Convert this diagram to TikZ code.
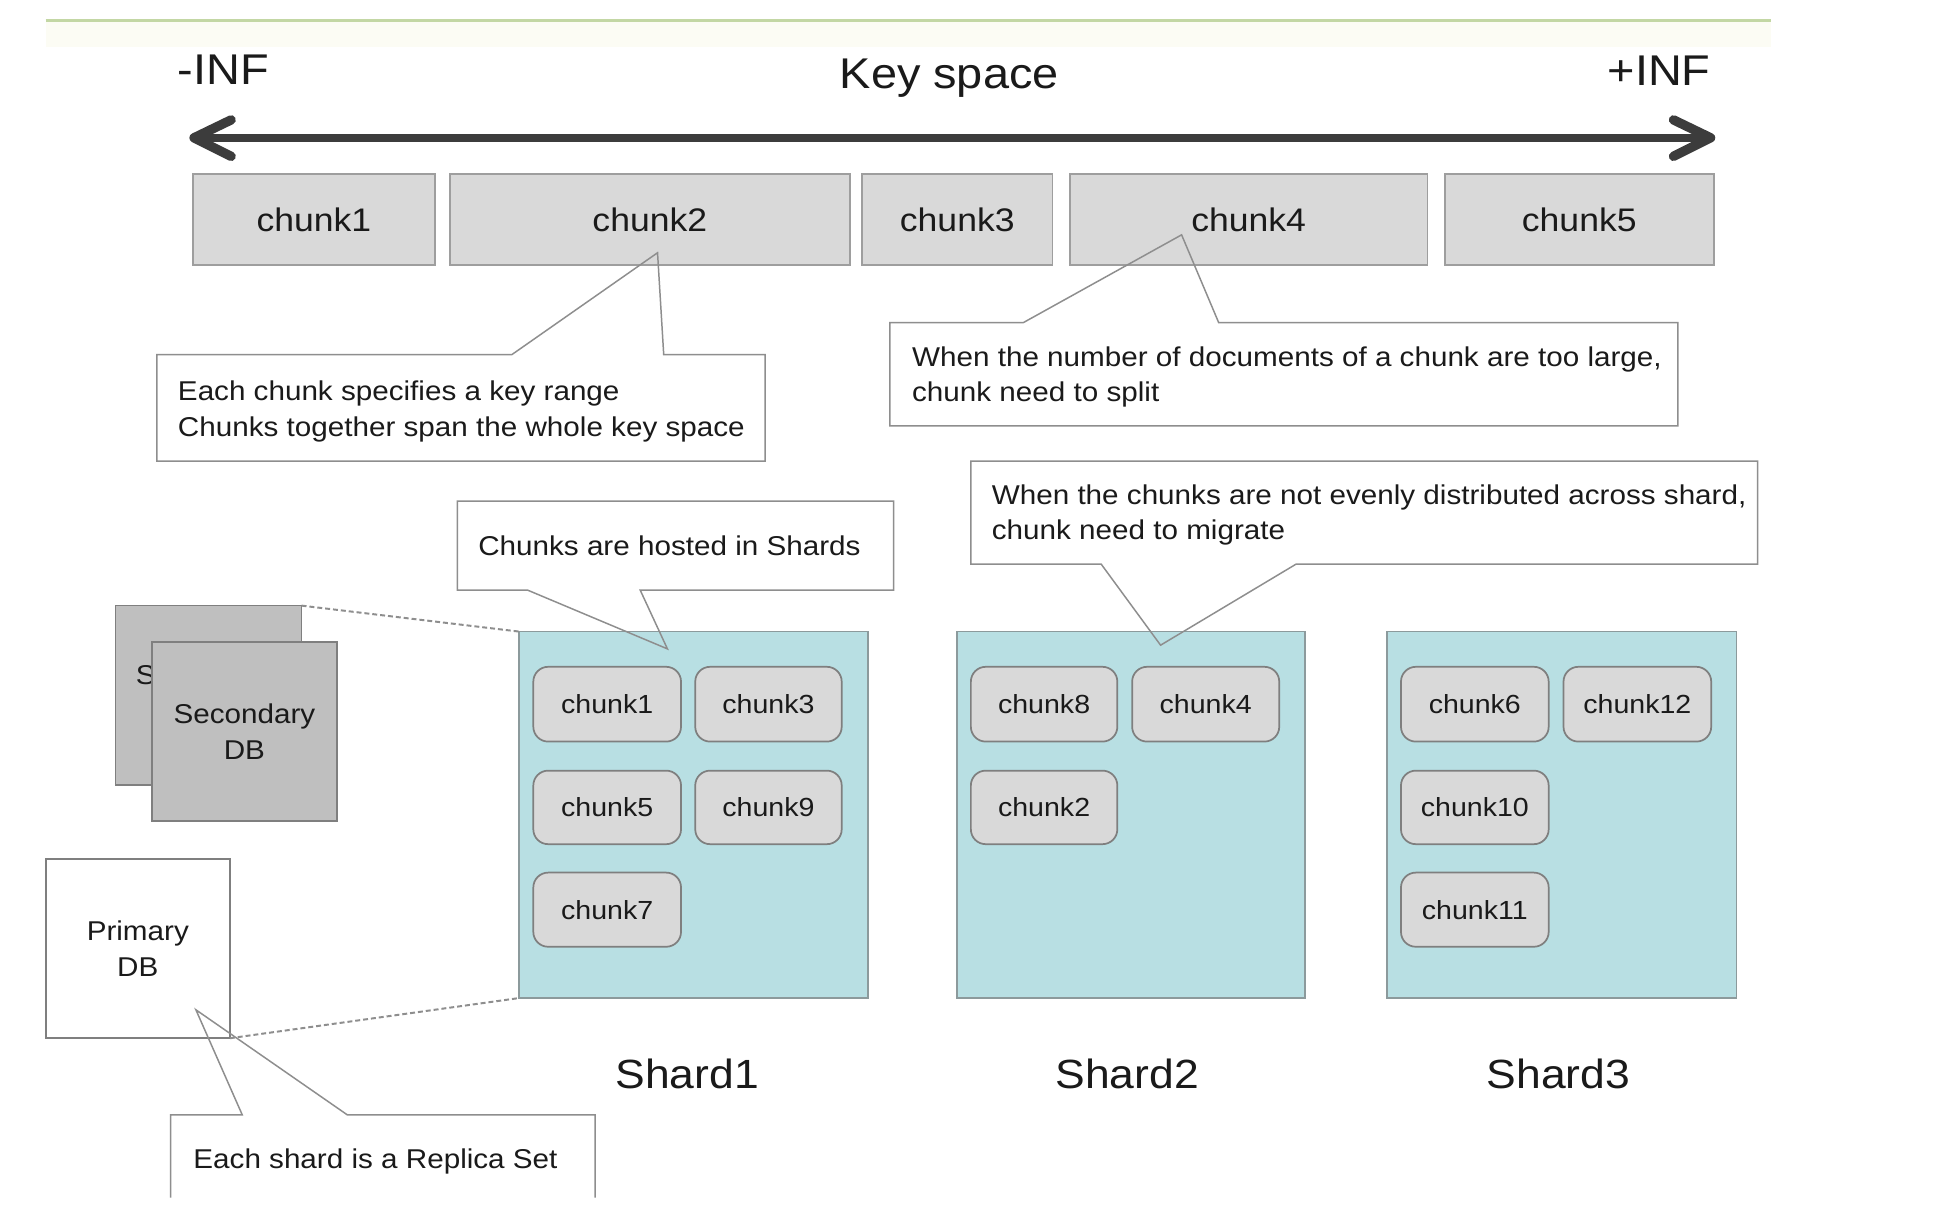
\documentclass[tikz,border=0pt]{standalone}
\usepackage{fontspec}
\setmainfont[FakeStretch=1.09]{Liberation Sans}
\usetikzlibrary{fit}
\definecolor{txt}{HTML}{1A1A1A}
\definecolor{chunkfill}{HTML}{D9D9D9}
\definecolor{chunkline}{HTML}{9E9E9E}
\definecolor{inline}{HTML}{7F7F7F}
\definecolor{shardfill}{HTML}{B8DFE3}
\definecolor{shardline}{HTML}{8C9A9C}
\definecolor{dbfill}{HTML}{BFBFBF}
\definecolor{dbline}{HTML}{7F7F7F}
\definecolor{calline}{HTML}{8E8E8E}
\definecolor{arrowc}{HTML}{3C3C3C}
\definecolor{greenline}{HTML}{C3D7A4}
\definecolor{cream}{HTML}{FCFCF4}
\begin{document}
\begin{tikzpicture}[x=0.5pt,y=-0.5pt,
  every node/.style={inner sep=0pt, outer sep=0pt, text=txt},
  topchunk/.style={draw=chunkline, line width=0.75pt, fill=chunkfill},
  toplabel/.style={font=\fontsize{13.2}{15}\selectfont},
  shardbox/.style={draw=shardline, line width=0.7pt, fill=shardfill},
  inchunk/.style={draw=inline, line width=0.7pt, fill=chunkfill, rounded corners=6pt},
  inlabel/.style={font=\fontsize{10.6}{12}\selectfont},
  dbbox/.style={draw=dbline, line width=0.7pt, fill=dbfill},
  primbox/.style={draw=dbline, line width=0.7pt, fill=white},
  dblabel/.style={align=center, font=\fontsize{11}{14.5}\selectfont},
  calloutline/.style={draw=calline, line width=0.6pt, line join=miter},
  caltext/.style={anchor=base west, font=\fontsize{11}{14}\selectfont},
  bigtext/.style={font=\fontsize{17.4}{20}\selectfont},
  shardlabel/.style={anchor=base, font=\fontsize{16.5}{19}\selectfont},
  replica/.style={draw=calline, line width=0.8pt, dash pattern=on 2pt off 1.2pt}
]
\useasboundingbox (0,0) rectangle (1568,995);
\fill[white] (0,0) rectangle (1568,995);
\fill[cream] (37,18) rectangle (1433,38);
\draw[greenline, line width=1.2pt] (37,16.5) -- (1433,16.5);

% header texts
\node[bigtext, anchor=base west] (ninf) at (144,68) {-INF};
\node[bigtext, anchor=base] (keyspace) at (768,72) {Key space};
\node[bigtext, anchor=base east] (pinf) at (1384,69) {+INF};

% key space arrow
\coordinate (al) at (157,111.5);
\coordinate (ar) at (1384,111.5);
\draw[arrowc, line width=3pt] (al) -- (ar);
\draw[arrowc, line width=3.8pt, line cap=round, line join=round] (187,97) -- (al) -- (187,126.5);
\draw[arrowc, line width=3.8pt, line cap=round, line join=round] (1354,97) -- (ar) -- (1354,126.5);

% top chunks
\node[topchunk, fit={(156,141) (352,214.5)}] (tc1) {};
\node[topchunk, fit={(364,141) (687.5,214.5)}] (tc2) {};
\node[topchunk, fit={(697.5,141) (851.5,214.5)}] (tc3) {};
\node[topchunk, fit={(865.5,141) (1155,214.5)}] (tc4) {};
\node[topchunk, fit={(1169,141) (1386.5,214.5)}] (tc5) {};
\node[toplabel] (tc1t) at (tc1.center) {chunk1};
\node[toplabel] (tc2t) at (tc2.center) {chunk2};
\node[toplabel] (tc3t) at (tc3.center) {chunk3};
\node[toplabel] (tc4t) at (tc4.center) {chunk4};
\node[toplabel] (tc5t) at (tc5.center) {chunk5};

% shards
\node[shardbox, fit={(420,511) (702.5,807.5)}] (s1) {};
\node[shardbox, fit={(774,511) (1056,807.5)}] (s2) {};
\node[shardbox, fit={(1122,511) (1405,807.5)}] (s3) {};

\node[inchunk, fit={(431.5,539.5) (551,600)}] (s1a) {};
\node[inchunk, fit={(562.5,539.5) (681,600)}] (s1b) {};
\node[inchunk, fit={(431.5,623.5) (551,683)}] (s1c) {};
\node[inchunk, fit={(562.5,623.5) (681,683)}] (s1d) {};
\node[inchunk, fit={(431.5,706) (551,766)}] (s1e) {};
\node[inlabel] at (s1a.center) {chunk1};
\node[inlabel] at (s1b.center) {chunk3};
\node[inlabel] at (s1c.center) {chunk5};
\node[inlabel] at (s1d.center) {chunk9};
\node[inlabel] at (s1e.center) {chunk7};

\node[inchunk, fit={(785.5,539.5) (904,600)}] (s2a) {};
\node[inchunk, fit={(916,539.5) (1035,600)}] (s2b) {};
\node[inchunk, fit={(785.5,623.5) (904,683)}] (s2c) {};
\node[inlabel] at (s2a.center) {chunk8};
\node[inlabel] at (s2b.center) {chunk4};
\node[inlabel] at (s2c.center) {chunk2};

\node[inchunk, fit={(1133.5,539.5) (1253,600)}] (s3a) {};
\node[inchunk, fit={(1265,539.5) (1384.5,600)}] (s3b) {};
\node[inchunk, fit={(1133.5,623.5) (1253,683)}] (s3c) {};
\node[inchunk, fit={(1133.5,706) (1253,766)}] (s3d) {};
\node[inlabel] at (s3a.center) {chunk6};
\node[inlabel] at (s3b.center) {chunk12};
\node[inlabel] at (s3c.center) {chunk10};
\node[inlabel] at (s3d.center) {chunk11};

\node[shardlabel] (l1) at (556,881) {Shard1};
\node[shardlabel] (l2) at (912,881) {Shard2};
\node[shardlabel] (l3) at (1261,881) {Shard3};

% replica set
\node[dbbox, fit={(93.5,490) (244,635)}] (secb) {};
\node[dblabel, anchor=base west] (secbt) at (110,554) {S};
\node[dbbox, fit={(123,519.5) (272.5,664)}] (secf) {};
\node[dblabel] (secft) at (secf.center) {Secondary\\DB};
\node[primbox, fit={(37,695) (186,840)}] (prim) {};
\node[dblabel] (primt) at (prim.center) {Primary\\DB};
\draw[replica] (secb.north east) -- (s1.north west);
\draw[replica] (prim.south east) -- (s1.south west);

% callouts
\draw[calloutline] (127,287) -- (414,287) -- (532,204.5) -- (537,287) -- (619,287) -- (619,373) -- (127,373) -- cycle;
\node[caltext] (c1a) at (144,324) {Each chunk specifies a key range};
\node[caltext] (c1b) at (144,353) {Chunks together span the whole key space};

\draw[calloutline] (720,261) -- (828,261) -- (956,190) -- (986,261) -- (1357.5,261) -- (1357.5,344.5) -- (720,344.5) -- cycle;
\node[caltext] (c2a) at (738,296.5) {When the number of documents of a chunk are too large,};
\node[caltext] (c2b) at (738,324.5) {chunk need to split};

\draw[calloutline] (370,405.5) -- (723,405.5) -- (723,477.5) -- (518,477.5) -- (540,525) -- (427,477.5) -- (370,477.5) -- cycle;
\node[caltext] (c3a) at (387,449.5) {Chunks are hosted in Shards};

\draw[calloutline] (785.5,373) -- (1422,373) -- (1422,456.5) -- (1048.5,456.5) -- (939,522) -- (891,456.5) -- (785.5,456.5) -- cycle;
\node[caltext] (c4a) at (802.5,408) {When the chunks are not evenly distributed across shard,};
\node[caltext] (c4b) at (802.5,436.5) {chunk need to migrate};

\draw[calloutline] (138,969) -- (138,902) -- (196,902) -- (158.5,817) -- (281,902) -- (481.5,902) -- (481.5,969);
\node[caltext] (c5a) at (156.5,945) {Each shard is a Replica Set};
\end{tikzpicture}
\end{document}
